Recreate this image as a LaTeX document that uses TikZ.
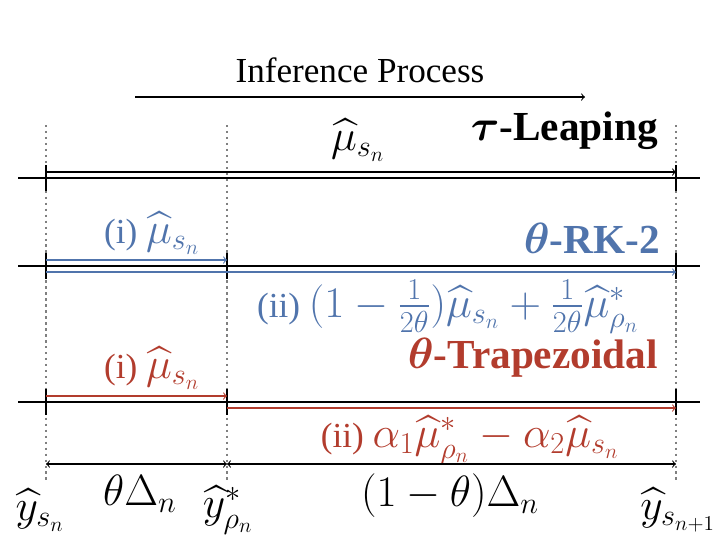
\documentclass[tikz,border=0pt]{standalone}
\usepackage{fontspec}
\setmainfont{Liberation Serif}
\usepackage{amsmath}
\definecolor{rkblue}{RGB}{80,116,172}
\definecolor{trred}{RGB}{178,60,45}
\newcommand{\lblmath}[1]{{\fontsize{26}{28}\selectfont$#1$}}
\tikzset{
  guide/.style={gray,dotted,line width=1.4pt},
  axis/.style={line width=1.2pt},
  tick/.style={line width=1.6pt},
  move/.style={->,line width=0.6pt},
  lbl/.style={font=\fontsize{20}{22}\selectfont},
  big/.style={font=\fontsize{23.5}{26}\selectfont\bfseries}
}
\begin{document}
\begin{tikzpicture}[x=0.02cm,y=-0.02cm]
      \useasboundingbox (0,0) rectangle (728,556);
      % grid of time points
      \foreach \x in {46,227,676} \draw [guide] (\x,125) -- (\x,482);
      % header
      \node [lbl] (proc) at (360,70) {Inference Process};
      \coordinate (pa) at (135,97);
      \coordinate (pb) at (585,97);
      \draw [move] (pa) -- (pb);
      % tau-leaping
      \begin{scope}
      \draw [axis] (18,178) -- (700,178);
      \foreach \x in {46,676} \draw [tick] (\x,165) -- (\x,191);
      \coordinate (a0) at (46,172);
      \coordinate (a2) at (676,172);
      \draw [move] (a0) -- (a2);
      \node [lbl] (m1) at (358,140) {\lblmath{\widehat{\mu}_{s_n}}};
      \node [big,anchor=east] (tl) at (664,131) {$\boldsymbol{\tau}$-Leaping};
      \end{scope}
      % RK-2
      \begin{scope}[rkblue]
      \draw [axis,black] (18,266) -- (700,266);
      \foreach \x in {46,227,676} \draw [tick,black] (\x,253) -- (\x,279);
      \coordinate (b0) at (46,260);
      \coordinate (b1) at (227,260);
      \coordinate (c0) at (46,272);
      \coordinate (c2) at (676,272);
      \draw [move] (b0) -- (b1);
      \draw [move] (c0) -- (c2);
      \node [lbl] (r1) at (152,233) {(i) \lblmath{\widehat{\mu}_{s_n}}};
      \node [big,anchor=east] (rk) at (666,238) {$\boldsymbol{\theta}$-RK-2};
      \node [lbl] (r2) at (448,307) {(ii) \lblmath{(1-\tfrac{1}{2\theta})\widehat{\mu}_{s_n}+\tfrac{1}{2\theta}\widehat{\mu}^*_{\rho_n}}};
      \end{scope}
      % trapezoidal
      \begin{scope}[trred]
      \draw [axis,black] (18,402) -- (700,402);
      \foreach \x in {46,227,676} \draw [tick,black] (\x,389) -- (\x,415);
      \coordinate (d0) at (46,396);
      \coordinate (d1) at (227,396);
      \coordinate (e1) at (227,408);
      \coordinate (e2) at (676,408);
      \draw [move] (d0) -- (d1);
      \draw [move] (e1) -- (e2);
      \node [lbl] (s1) at (152,368) {(i) \lblmath{\widehat{\mu}_{s_n}}};
      \node [big,anchor=east] (tz) at (664,358) {$\boldsymbol{\theta}$-Trapezoidal};
      \node [lbl] (s2) at (470,440) {(ii) \lblmath{\alpha_1\widehat{\mu}^*_{\rho_n}-\alpha_2\widehat{\mu}_{s_n}}};
      \end{scope}
      % step sizes
      \coordinate (f0) at (46,464);
      \coordinate (f1) at (227,464);
      \coordinate (f2) at (676,464);
      \draw [<->,line width=0.6pt] (f0) -- (f1);
      \draw [<->,line width=0.6pt] (f1) -- (f2);
      \node [font=\fontsize{26}{28}\selectfont] (h1) at (140,494) {$\theta\Delta_n$};
      \node [font=\fontsize{25}{28}\selectfont] (h2) at (450,496) {$(1-\theta)\Delta_n$};
      \node [font=\fontsize{24}{26}\selectfont] (y0) at (40,510) {$\widehat{y}_{s_n}$};
      \node [font=\fontsize{24}{26}\selectfont] (y1) at (228,510) {$\widehat{y}^*_{\rho_n}$};
      \node [font=\fontsize{24}{26}\selectfont] (y2) at (678,510) {$\widehat{y}_{s_{n+1}}$};
\end{tikzpicture}
\end{document}
